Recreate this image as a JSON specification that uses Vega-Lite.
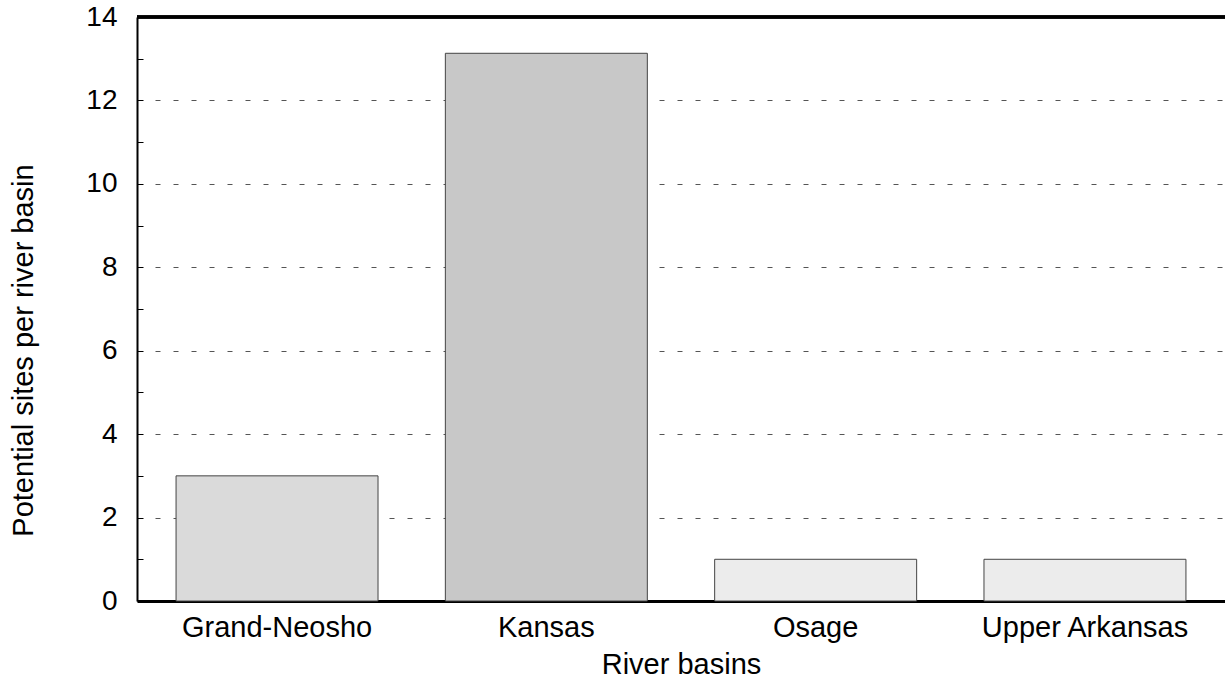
{
  "$schema": "https://vega.github.io/schema/vega-lite/v6.json",
  "width": 1088,
  "height": 584,
  "autosize": {"type": "none"},
  "padding": {"left": 137, "top": 17, "right": 0, "bottom": 93},
  "background": "white",
  "config": {
    "view": {"stroke": null},
    "font": "Liberation Sans",
    "axis": {"labelFont": "Liberation Sans", "titleFont": "Liberation Sans", "labelColor": "black", "titleColor": "black", "titleFontWeight": "normal", "labelLimit": 0}
  },
  "data": {
    "values": [
      {"basin": "Grand-Neosho", "sites": 3},
      {"basin": "Kansas", "sites": 13.13},
      {"basin": "Osage", "sites": 1},
      {"basin": "Upper Arkansas", "sites": 1}
    ]
  },
  "layer": [
    {
      "mark": {"type": "bar", "stroke": "#444444", "strokeWidth": 1},
      "encoding": {
        "x": {
          "field": "basin",
          "type": "nominal",
          "sort": null,
          "scale": {"paddingInner": 0.25, "paddingOuter": 0.145},
          "axis": {
            "title": "River basins",
            "labelAngle": 0,
            "labelFontSize": 29,
            "labelPadding": 24,
            "titleFontSize": 29,
            "titleY": 72,
            "titleBaseline": "alphabetic",
            "domainColor": "black",
            "domainWidth": 3,
            "tickColor": "black",
            "tickWidth": 2,
            "tickSize": -12,
            "grid": false
          }
        },
        "y": {
          "field": "sites",
          "type": "quantitative",
          "scale": {"domain": [0, 14], "nice": false},
          "axis": {
            "title": "Potential sites per river basin",
            "values": [0, 1, 2, 3, 4, 5, 6, 7, 8, 9, 10, 11, 12, 13, 14],
            "labelExpr": "datum.value % 2 == 0 ? datum.label : ''",
            "labelFontSize": 28,
            "labelPadding": 26,
            "titleFontSize": 29,
            "titleX": -105,
            "titleY": 333,
            "titleBaseline": "alphabetic",
            "domainColor": "black",
            "domainWidth": 2,
            "tickColor": "black",
            "tickWidth": 1,
            "tickSize": -6,
            "grid": true,
            "gridColor": "#555555",
            "gridWidth": 1,
            "gridDash": [5, 13],
            "gridOpacity": {"condition": {"test": "datum.value % 2 == 0 && datum.value > 0 && datum.value < 14", "value": 1}, "value": 0}
          }
        },
        "color": {
          "field": "basin",
          "type": "nominal",
          "scale": {"domain": ["Grand-Neosho", "Kansas", "Osage", "Upper Arkansas"], "range": ["#dadada", "#c8c8c8", "#ececec", "#ececec"]},
          "legend": null
        }
      }
    },
    {
      "mark": {"type": "rule", "color": "black", "strokeWidth": 3},
      "encoding": {"y": {"datum": 14, "type": "quantitative"}}
    }
  ]
}
